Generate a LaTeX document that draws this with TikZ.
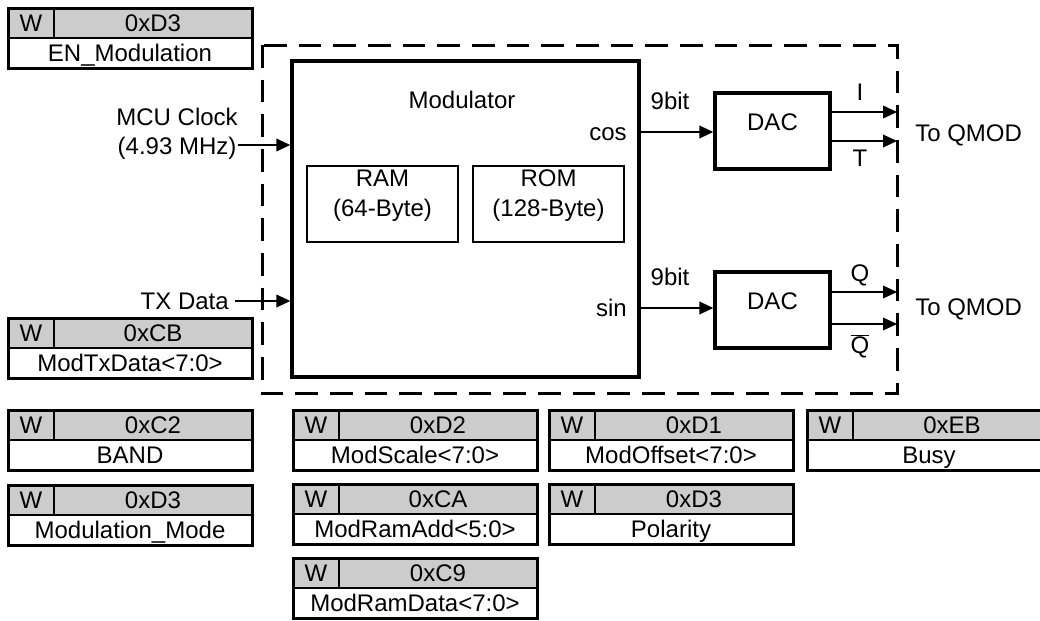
\documentclass[tikz,border=0pt]{standalone}
\usepackage{fontspec}
\setmainfont{Liberation Sans}
\usepackage{tikz}
\usetikzlibrary{arrows.meta,fit}
\definecolor{reggray}{RGB}{204,204,204}

\tikzset{
  lbl/.style={inner sep=0pt, text height=12.9pt, text depth=0pt},
  blk/.style={draw, inner sep=0pt, align=center},
  sig/.style={line width=1.2pt},
  regline/.style={line width=1.5pt},
  regframe/.style={line width=2.25pt}
}

% register field: name, top left x, top left y, address, field name
\newcommand{\regfield}[5]{%
  \fill[reggray] (#2,#3) rectangle ++(244,30);
  \draw[regline] (#2+46,#3) -- ++(0,30) (#2,#3+30) -- ++(244,0);
  \draw[regframe] (#2,#3) rectangle ++(244,60);
  \node[lbl] (#1w) at (#2+23,#3+15) {W};
  \node[lbl] (#1a) at (#2+145,#3+15) {#4};
  \node[lbl] (#1f) at (#2+122,#3+45) {#5};
}

\begin{document}
\begin{tikzpicture}[x=0.75pt, y=-0.75pt, font=\fontsize{18}{22}\selectfont, >={Triangle[length=10.5pt,width=9.5pt]}]
  \useasboundingbox (0,0) rectangle (1040,621);
  % Dashed border
  \draw[line width=2.25pt, dash pattern=on 17pt off 9pt] (262,45) rectangle (897,393);
  % Modulator with its memories
  \node[blk, line width=2.5pt, fit={(292,61) (639,377)}] (mod) {};
  \node[lbl] (modname) at (462,100) {Modulator};
  \node[blk, line width=1.5pt, fit={(307,166) (458,242)}] (ram) {RAM\\(64-Byte)};
  \node[blk, line width=1.5pt, fit={(473,166) (624,242)}] (rom) {ROM\\(128-Byte)};
  \node[lbl, anchor=east] (cos) at (627,132) {cos};
  \node[lbl, anchor=east] (sin) at (627,308) {sin};
  % DACs
  \node[blk, line width=2.5pt, fit={(715,93) (830,169)}] (dac1) {DAC};
  \node[blk, line width=2.5pt, fit={(715,272) (830,348)}] (dac2) {DAC};
  \node[lbl] (bits1) at (670,101) {9bit};
  \node[lbl] (bits2) at (670,277) {9bit};
  \draw[sig, ->] (cos.east -| mod.east) -- (cos.east -| dac1.west);
  \draw[sig, ->] (sin.east -| mod.east) -- (sin.east -| dac2.west);
  % Inputs
  \node[align=center, anchor=east, inner sep=0pt] (clk) at (238,134) {MCU Clock\\(4.93 MHz)};
  \coordinate (clkin) at (238,145);
  \draw[sig, ->] (clkin) -- (clkin -| mod.west);
  \node[lbl, anchor=east] (txd) at (229,301) {TX Data};
  \draw[sig, ->] ([xshift=4.5pt]txd.east) -- (txd.east -| mod.west);
  % Outputs to QMOD
  \coordinate (outI) at (897,112);
  \coordinate (outIb) at (897,141);
  \coordinate (outQ) at (897,292);
  \coordinate (outQb) at (897,324);
  \draw[sig, ->] (outI -| dac1.east) -- (outI);
  \draw[sig, ->] (outIb -| dac1.east) -- (outIb);
  \draw[sig, ->] (outQ -| dac2.east) -- (outQ);
  \draw[sig, ->] (outQb -| dac2.east) -- (outQb);
  \node[lbl] (lI) at (860,92) {I};
  \node[lbl] (lIb) at (860,158) {T};
  \node[lbl] (lQ) at (860,273) {Q};
  \node[lbl] (lQb) at (860,345) {$\overline{\hbox{Q}}$};
  \node[lbl, anchor=west] (qmod1) at (915,133) {To QMOD};
  \node[lbl, anchor=west] (qmod2) at (915,307) {To QMOD};
  % Registers
  \regfield{en}{8}{8}{0xD3}{EN\_Modulation}
  \regfield{txreg}{8}{318}{0xCB}{ModTxData<7:0>}
  \regfield{band}{8}{410}{0xC2}{BAND}
  \regfield{mode}{8}{485}{0xD3}{Modulation\_Mode}
  \regfield{scale}{293}{410}{0xD2}{ModScale<7:0>}
  \regfield{ramadd}{293}{484}{0xCA}{ModRamAdd<5:0>}
  \regfield{ramdata}{293}{558}{0xC9}{ModRamData<7:0>}
  \regfield{offset}{549}{410}{0xD1}{ModOffset<7:0>}
  \regfield{pol}{549}{484}{0xD3}{Polarity}
  \regfield{busy}{807}{410}{0xEB}{Busy}
\end{tikzpicture}
\end{document}
